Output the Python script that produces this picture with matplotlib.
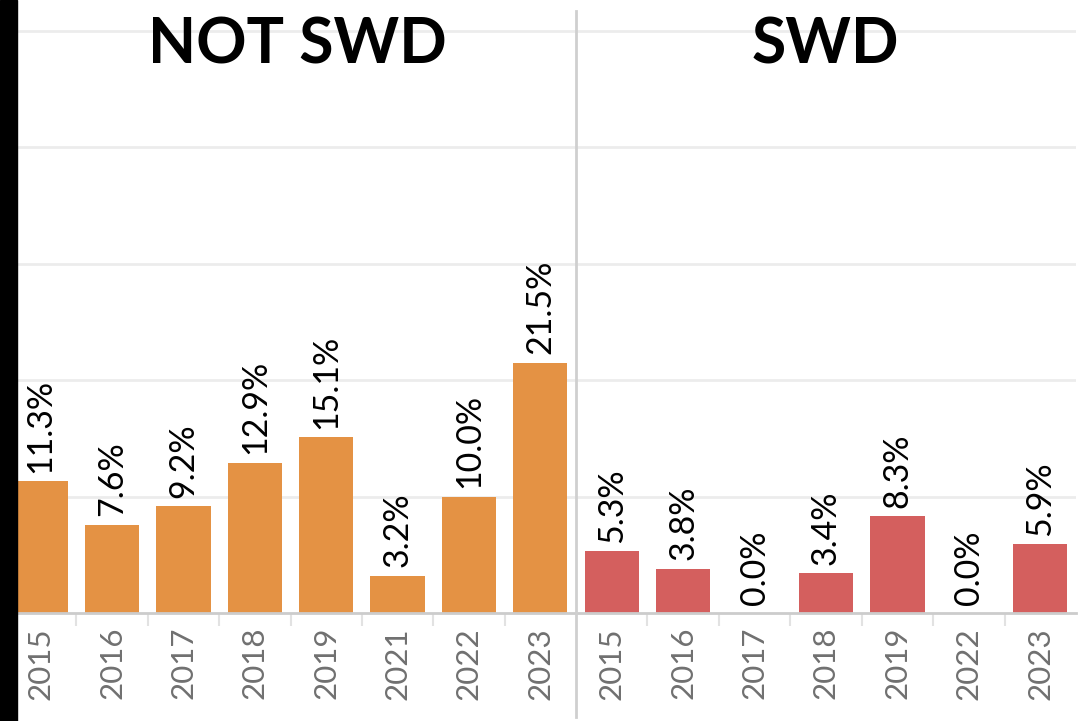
import matplotlib.pyplot as plt
from matplotlib.lines import Line2D
from matplotlib.patches import Rectangle

not_swd_years = ['2015', '2016', '2017', '2018', '2019', '2021', '2022', '2023']
not_swd_values = [11.3, 7.6, 9.2, 12.9, 15.1, 3.2, 10.0, 21.5]
swd_years = ['2015', '2016', '2017', '2018', '2019', '2022', '2023']
swd_values = [5.3, 3.8, 0.0, 3.4, 8.3, 0.0, 5.9]
panel_titles = ['NOT SWD', 'SWD']

W, H = 1089, 721
fig = plt.figure(figsize=(W / 100, H / 100), dpi=100)

label_font = ['Lato', 'DejaVu Sans']
title_font = ['Lato', 'DejaVu Sans']
grid_color = '#ececec'
axis_color = '#cccccc'


def draw_panel(ax, years, values, color):
    x = range(len(years))
    ax.bar(x, values, width=0.76, color=color, edgecolor='none', zorder=2)
    for xi, v in zip(x, values):
        ax.annotate(f'{v:.1f}%', (xi, v), xytext=(0, 6), textcoords='offset points',
                    ha='center', va='bottom', rotation=90, fontsize=24.5,
                    family=label_font, color='black')
    ax.set_xlim(-0.5, len(years) - 0.5)
    ax.set_ylim(0, 51.7)
    ax.set_yticks([10, 20, 30, 40, 50])
    ax.yaxis.grid(True, color=grid_color, lw=2)
    ax.set_axisbelow(True)
    ax.tick_params(axis='y', length=0, labelleft=False)
    ax.set_xticks(list(x))
    ax.set_xticklabels(years, rotation=90, fontsize=22.5, family=label_font, color='#707070')
    ax.tick_params(axis='x', which='major', length=0, pad=10)
    ax.set_xticks([i + 0.5 for i in range(len(years) - 1)], minor=True)
    ax.tick_params(axis='x', which='minor', length=9, width=1.5, color='#e2e2e2')
    for s in ['top', 'left', 'right']:
        ax.spines[s].set_visible(False)
    ax.spines['bottom'].set_color(axis_color)
    ax.spines['bottom'].set_linewidth(2)


bottom = (H - 613) / H
height = (613 - 11) / H
ax1 = fig.add_axes([5 / W, bottom, 571 / W, height])
ax2 = fig.add_axes([576 / W, bottom, 500 / W, height])
draw_panel(ax1, not_swd_years, not_swd_values, '#E49244')
draw_panel(ax2, swd_years, swd_values, '#D45F5E')

fig.text(297 / W, 1 - 46 / H, panel_titles[0], ha='center', va='center',
         fontsize=45, fontweight='bold', family=title_font)
fig.text(825 / W, 1 - 46 / H, panel_titles[1], ha='center', va='center',
         fontsize=45, fontweight='bold', family=title_font)

# pane divider and black strip on the left edge
fig.add_artist(Line2D([576 / W, 576 / W], [4 / H, 1 - 11 / H], color='#cfcfcf', lw=2))
fig.add_artist(Rectangle((0, 0), 17 / W, 1, color='black', transform=fig.transFigure))

fig.savefig('out.png', dpi=100)
